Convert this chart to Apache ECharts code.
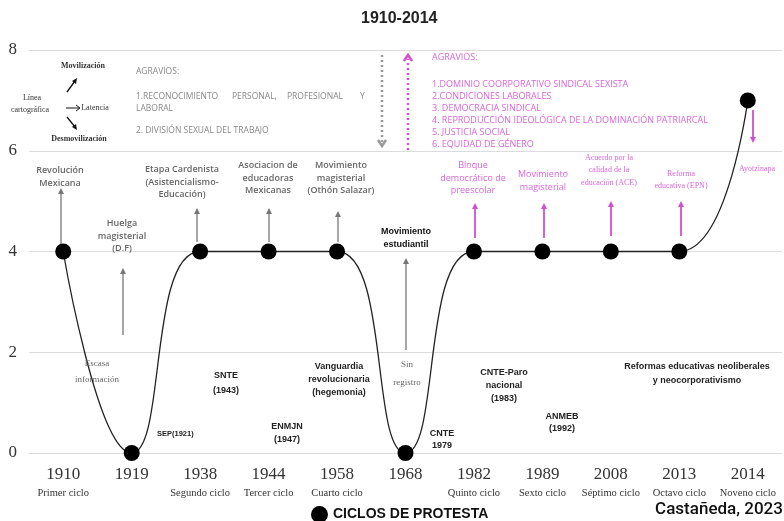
<!DOCTYPE html>
<html>
<head>
<meta charset="utf-8">
<script src="https://cdn.jsdelivr.net/npm/echarts@6/dist/echarts.min.js"></script>
<style>
  html, body { margin: 0; padding: 0; background: #fff; }
  #main { width: 784px; height: 521px; }
</style>
</head>
<body>
<div id="main"></div>
<script>
// datos
var years = ['1910', '1919', '1938', '1944', '1958', '1968', '1982', '1989', '2008', '2013', '2014'];
var cycles = ['Primer ciclo', '', 'Segundo ciclo', 'Tercer ciclo', 'Cuarto ciclo', '', 'Quinto ciclo', 'Sexto ciclo', 'Séptimo ciclo', 'Octavo ciclo', 'Noveno ciclo'];
var protestLevel = [4, 0, 4, 4, 4, 0, 4, 4, 4, 4, 7];

var GRAY = '#666';
var PINK = '#d966d9';
var PINK_ARROW = '#d24fd2';
var SANS = 'Open Sans';
var SERIF = 'Liberation Serif';

function txt(x, y, text, o) {
    o = o || {};
    var align = o.align || 'center';
    return {
        type: 'text', z: 50, silent: true,
        style: {
            x: x, y: y, text: text,
            fill: o.color || GRAY,
            fontSize: o.size || 9,
            fontFamily: o.family || SANS,
            fontWeight: o.weight || 'normal',
            lineHeight: o.lh || 12.5,
            align: align, textAlign: align,
            verticalAlign: 'middle', textVerticalAlign: 'middle'
        }
    };
}

function arrow(x, y1, y2, color, w) {
    var dir = y2 < y1 ? 1 : -1;
    return [
        { type: 'line', z: 40, silent: true, shape: { x1: x, y1: y1, x2: x, y2: y2 + dir * 3 },
          style: { stroke: color, lineWidth: w || 1.3 } },
        { type: 'polygon', z: 40, silent: true,
          shape: { points: [[x, y2], [x - 3, y2 + dir * 6], [x + 3, y2 + dir * 6]] },
          style: { fill: color } }
    ];
}

function dotted(x, y1, y2, color) {
    var dir = y2 < y1 ? 1 : -1;
    return [
        { type: 'line', z: 40, silent: true, shape: { x1: x, y1: y1, x2: x, y2: y2 + dir * 4 },
          style: { stroke: color, lineWidth: 2.5, lineDash: [2, 3] } },
        { type: 'polyline', z: 40, silent: true,
          shape: { points: [[x - 4, y2 + dir * 6], [x, y2], [x + 4, y2 + dir * 6]] },
          style: { stroke: color, lineWidth: 2.5, fill: null } }
    ];
}

var graphics = [].concat(
    // caja izquierda
    txt(83, 66, 'Movilización', { family: SERIF, size: 8, color: '#333', weight: 'bold' }),
    txt(32, 98, 'Línea', { family: SERIF, size: 8, color: '#333' }),
    txt(30, 110, 'cartográfica', { family: SERIF, size: 8, color: '#333' }),
    txt(95, 108, 'Latencia', { family: SERIF, size: 8, color: '#333' }),
    txt(79, 139, 'Desmovilización', { family: SERIF, size: 8, color: '#333', weight: 'bold' }),
    [
        { type: 'line', silent: true, shape: { x1: 67, y1: 92, x2: 75, y2: 81 }, style: { stroke: '#111', lineWidth: 1.3 } },
        { type: 'polygon', silent: true, shape: { points: [[77, 78], [72, 81], [76, 84]] }, style: { fill: '#111' } },
        { type: 'line', silent: true, shape: { x1: 66, y1: 108, x2: 79, y2: 108 }, style: { stroke: '#111', lineWidth: 1 } },
        { type: 'polyline', silent: true, shape: { points: [[76, 105], [80, 108], [76, 111]] }, style: { stroke: '#111', lineWidth: 1, fill: null } },
        { type: 'line', silent: true, shape: { x1: 67, y1: 117, x2: 75, y2: 127 }, style: { stroke: '#111', lineWidth: 1.3 } },
        { type: 'polygon', silent: true, shape: { points: [[77, 130], [72, 127], [76, 124]] }, style: { fill: '#111' } }
    ],
    txt(136, 72, 'AGRAVIOS:', { align: 'left', size: 8.5, color: '#888' }),
    txt(136, 97, '1.RECONOCIMIENTO', { align: 'left', size: 8.5, color: '#888' }),
    txt(232, 97, 'PERSONAL,', { align: 'left', size: 8.5, color: '#888' }),
    txt(287, 97, 'PROFESIONAL', { align: 'left', size: 8.5, color: '#888' }),
    txt(360, 97, 'Y', { align: 'left', size: 8.5, color: '#888' }),
    txt(136, 109, 'LABORAL', { align: 'left', size: 8.5, color: '#888' }),
    txt(136, 131, '2. DIVISIÓN SEXUAL DEL TRABAJO', { align: 'left', size: 8.5, color: '#888' }),
    dotted(382, 55, 146, '#999'),
    dotted(408, 150, 55, PINK_ARROW),
    // agravios rosa
    txt(432, 57, 'AGRAVIOS:', { align: 'left', size: 9, color: PINK }),
    txt(432, 84, '1.DOMINIO COORPORATIVO SINDICAL SEXISTA', { align: 'left', size: 9, color: PINK }),
    txt(432, 96, '2.CONDICIONES LABORALES', { align: 'left', size: 9, color: PINK }),
    txt(432, 108, '3. DEMOCRACIA SINDICAL', { align: 'left', size: 9, color: PINK }),
    txt(432, 120, '4. REPRODUCCIÓN IDEOLÓGICA DE LA DOMINACIÓN PATRIARCAL', { align: 'left', size: 9, color: PINK }),
    txt(432, 132, '5. JUSTICIA SOCIAL', { align: 'left', size: 9, color: PINK }),
    txt(432, 144, '6. EQUIDAD DE GÉNERO', { align: 'left', size: 9, color: PINK }),
    // etiquetas superiores
    txt(60, 177, 'Revolución\nMexicana', { weight: 600 }),
    arrow(61, 244, 188, '#777'),
    txt(122, 236, 'Huelga\nmagisterial\n(D.F)', { weight: 600 }),
    arrow(123, 335, 268, '#777'),
    txt(182, 182, 'Etapa Cardenista\n(Asistencialismo-\nEducación)', { weight: 600 }),
    arrow(197, 242, 208, '#777'),
    txt(268, 178, 'Asociacion de\neducadoras\nMexicanas', { weight: 600 }),
    arrow(269, 242, 208, '#777'),
    txt(341, 178, 'Movimiento\nmagisterial\n(Othón Salazar)', { weight: 600 }),
    arrow(338, 242, 211, '#777'),
    txt(406, 238, 'Movimiento\nestudiantil', { weight: 'bold', color: '#111', family: 'Liberation Sans' }),
    arrow(406, 350, 258, '#777'),
    txt(473, 178, 'Bloque\ndemocrático de\npreescolar', { color: PINK }),
    arrow(475, 238, 203, PINK_ARROW, 1.8),
    txt(543, 181, 'Movimiento\nmagisterial', { color: PINK }),
    arrow(544, 238, 203, PINK_ARROW, 1.8),
    txt(609, 170, 'Acuerdo por la\ncalidad de la\neducación (ACE)', { color: PINK, family: SERIF, size: 8 }),
    arrow(611, 236, 201, PINK_ARROW, 1.8),
    txt(681, 180, 'Reforma\neducativa (EPN)', { color: PINK, family: SERIF, size: 8 }),
    arrow(681, 236, 201, PINK_ARROW, 1.8),
    txt(757, 169, 'Ayotzinapa', { color: PINK, family: SERIF, size: 8 }),
    arrow(753, 110, 143, PINK_ARROW, 1.8),
    // etiquetas inferiores
    txt(97, 372, 'Escasa\ninformación', { family: SERIF, size: 9, lh: 16 }),
    txt(407, 374, 'Sin\nregistro', { family: SERIF, size: 9, lh: 18 }),
    txt(157, 434, 'SEP(1921)', { align: 'left', weight: 'bold', color: '#222', size: 7.5, family: 'Liberation Sans' }),
    txt(226, 383, 'SNTE\n(1943)', { weight: 'bold', color: '#222', lh: 15, family: 'Liberation Sans' }),
    txt(287, 433, 'ENMJN\n(1947)', { weight: 'bold', color: '#222', lh: 13, family: 'Liberation Sans' }),
    txt(339, 380, 'Vanguardia\nrevolucionaria\n(hegemonia)', { weight: 'bold', color: '#222', lh: 13, family: 'Liberation Sans' }),
    txt(442, 440, 'CNTE\n1979', { weight: 'bold', color: '#222', lh: 12, family: 'Liberation Sans' }),
    txt(504, 386, 'CNTE-Paro\nnacional\n(1983)', { weight: 'bold', color: '#222', lh: 13, family: 'Liberation Sans' }),
    txt(562, 423, 'ANMEB\n(1992)', { weight: 'bold', color: '#222', lh: 12, family: 'Liberation Sans' }),
    txt(697, 374, 'Reformas educativas neoliberales\ny neocorporativismo', { weight: 'bold', color: '#222', lh: 14, family: 'Liberation Sans' }),
    // firma
    txt(719, 510, 'Castañeda, 2023', { size: 17, color: '#111', weight: 500, family: 'Roboto' })
);

var myChart = echarts.init(document.getElementById('main'));
var option = {
    animation: false,
    title: {
        text: '1910-2014',
        left: 356, top: 6,
        textStyle: { fontSize: 16, fontWeight: 'bold', color: '#222', fontFamily: 'Liberation Sans' }
    },
    legend: {
        data: ['CICLOS DE PROTESTA'],
        left: 306, top: 501,
        icon: 'circle', itemWidth: 17, itemHeight: 17, itemGap: 6,
        textStyle: { fontSize: 14, fontWeight: 'bold', color: '#111', fontFamily: 'Liberation Sans' }
    },
    grid: { left: 29, right: 2, top: 50, bottom: 68 },
    xAxis: {
        type: 'category',
        data: years,
        boundaryGap: true,
        axisLine: { show: false },
        axisTick: { show: false },
        axisLabel: {
            margin: 12,
            interval: 0,
            formatter: function (v, i) { return '{y|' + v + '}\n{c|' + (cycles[i] || ' ') + '}'; },
            rich: {
                y: { fontFamily: SERIF, fontSize: 17, color: '#333', lineHeight: 20 },
                c: { fontFamily: SERIF, fontSize: 10.5, color: '#333', lineHeight: 16 }
            }
        }
    },
    yAxis: {
        type: 'value',
        min: 0, max: 8, interval: 2,
        axisLabel: { margin: 12, fontFamily: SERIF, fontSize: 17, color: '#333' },
        splitLine: { lineStyle: { color: '#dcdcdc', width: 1 } }
    },
    series: [{
        name: 'CICLOS DE PROTESTA',
        type: 'line',
        data: protestLevel,
        smooth: 0.5,
        symbol: 'circle',
        symbolSize: 16,
        itemStyle: { color: '#000' },
        lineStyle: { color: '#222', width: 1.3 },
        z: 30
    }],
    graphic: graphics
};
option && myChart.setOption(option);
</script>
</body>
</html>
